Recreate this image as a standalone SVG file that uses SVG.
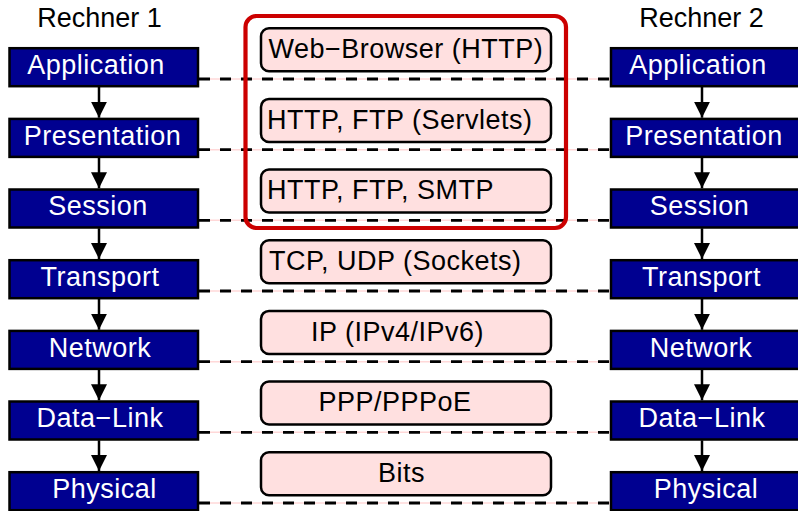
<svg xmlns="http://www.w3.org/2000/svg" width="798" height="511" viewBox="0 0 798 511">
<style>
text{font-family:"Liberation Sans",Arial,sans-serif;font-size:27px;letter-spacing:0.5px}
.layer{fill:#000090;stroke:#000;stroke-width:2.5}
.lt{fill:#fff;text-anchor:middle}
.proto{fill:#ffe0e0;stroke:#000;stroke-width:2.5}
.pt{fill:#000}
.under{stroke:#ffd8d8;stroke-width:1.5}
.dash{stroke:#000;stroke-width:2.8;stroke-dasharray:11 10}
.arr{stroke:#000;stroke-width:2.5}
.title{fill:#000;text-anchor:middle;letter-spacing:0}
</style>
<defs>
<marker id="ah" markerWidth="16" markerHeight="16" viewBox="0 0 16 16" refX="16" refY="8" orient="auto" markerUnits="userSpaceOnUse">
<path d="M0,0 L16,8 L0,16 Z" fill="#000"/>
</marker>
</defs>
<rect width="798" height="511" fill="#fff"/>
<text class="title" x="99.5" y="27">Rechner 1</text>
<text class="title" x="701.5" y="27">Rechner 2</text>
<g id="connectors">
<g id="peer-lines">
<line class="under" x1="199" y1="79" x2="610" y2="79"/>
<line class="dash" x1="199" y1="79" x2="610" y2="79"/>
<line class="under" x1="199" y1="149.7" x2="610" y2="149.7"/>
<line class="dash" x1="199" y1="149.7" x2="610" y2="149.7"/>
<line class="under" x1="199" y1="220.3" x2="610" y2="220.3"/>
<line class="dash" x1="199" y1="220.3" x2="610" y2="220.3"/>
<line class="under" x1="199" y1="291" x2="610" y2="291"/>
<line class="dash" x1="199" y1="291" x2="610" y2="291"/>
<line class="under" x1="199" y1="361.7" x2="610" y2="361.7"/>
<line class="dash" x1="199" y1="361.7" x2="610" y2="361.7"/>
<line class="under" x1="199" y1="432.3" x2="610" y2="432.3"/>
<line class="dash" x1="199" y1="432.3" x2="610" y2="432.3"/>
<line class="under" x1="199" y1="503" x2="610" y2="503"/>
<line class="dash" x1="199" y1="503" x2="610" y2="503"/>
</g>
<g id="arrows">
<line class="arr" x1="99" y1="87" x2="99" y2="117.7" marker-end="url(#ah)"/>
<line class="arr" x1="99" y1="157.7" x2="99" y2="188.3" marker-end="url(#ah)"/>
<line class="arr" x1="99" y1="228.3" x2="99" y2="259" marker-end="url(#ah)"/>
<line class="arr" x1="99" y1="299" x2="99" y2="329.7" marker-end="url(#ah)"/>
<line class="arr" x1="99" y1="369.7" x2="99" y2="400.3" marker-end="url(#ah)"/>
<line class="arr" x1="99" y1="440.3" x2="99" y2="471" marker-end="url(#ah)"/>
<line class="arr" x1="702" y1="87" x2="702" y2="117.7" marker-end="url(#ah)"/>
<line class="arr" x1="702" y1="157.7" x2="702" y2="188.3" marker-end="url(#ah)"/>
<line class="arr" x1="702" y1="228.3" x2="702" y2="259" marker-end="url(#ah)"/>
<line class="arr" x1="702" y1="299" x2="702" y2="329.7" marker-end="url(#ah)"/>
<line class="arr" x1="702" y1="369.7" x2="702" y2="400.3" marker-end="url(#ah)"/>
<line class="arr" x1="702" y1="440.3" x2="702" y2="471" marker-end="url(#ah)"/>
</g>
</g>
<g id="left-application"><rect class="layer" x="9.5" y="48.2" width="188.5" height="38"/><text class="lt" x="96" y="74">Application</text></g>
<g id="left-presentation"><rect class="layer" x="9.5" y="118.9" width="188.5" height="38"/><text class="lt" x="102.5" y="144.7">Presentation</text></g>
<g id="left-session"><rect class="layer" x="9.5" y="189.5" width="188.5" height="38"/><text class="lt" x="98" y="215.3">Session</text></g>
<g id="left-transport"><rect class="layer" x="9.5" y="260.2" width="188.5" height="38"/><text class="lt" x="100" y="286">Transport</text></g>
<g id="left-network"><rect class="layer" x="9.5" y="330.9" width="188.5" height="38"/><text class="lt" x="100" y="356.7">Network</text></g>
<g id="left-datalink"><rect class="layer" x="9.5" y="401.5" width="188.5" height="38"/><text class="lt" x="100" y="427.3">Data−Link</text></g>
<g id="left-physical"><rect class="layer" x="9.5" y="472.2" width="188.5" height="38"/><text class="lt" x="104.5" y="498">Physical</text></g>
<g id="right-application"><rect class="layer" x="611" y="48.2" width="189" height="38"/><text class="lt" x="698" y="74">Application</text></g>
<g id="right-presentation"><rect class="layer" x="611" y="118.9" width="189" height="38"/><text class="lt" x="704" y="144.7">Presentation</text></g>
<g id="right-session"><rect class="layer" x="611" y="189.5" width="189" height="38"/><text class="lt" x="699.5" y="215.3">Session</text></g>
<g id="right-transport"><rect class="layer" x="611" y="260.2" width="189" height="38"/><text class="lt" x="701.5" y="286">Transport</text></g>
<g id="right-network"><rect class="layer" x="611" y="330.9" width="189" height="38"/><text class="lt" x="701" y="356.7">Network</text></g>
<g id="right-datalink"><rect class="layer" x="611" y="401.5" width="189" height="38"/><text class="lt" x="702" y="427.3">Data−Link</text></g>
<g id="right-physical"><rect class="layer" x="611" y="472.2" width="189" height="38"/><text class="lt" x="706" y="498">Physical</text></g>
<g id="proto-app"><rect class="proto" x="261" y="28.2" width="290" height="43" rx="8"/><text class="pt" x="268.5" y="58">Web−Browser (HTTP)</text></g>
<g id="proto-pres"><rect class="proto" x="261" y="98.9" width="290" height="43" rx="8"/><text class="pt" x="267" y="128.7">HTTP, FTP (Servlets)</text></g>
<g id="proto-sess"><rect class="proto" x="261" y="169.5" width="290" height="43" rx="8"/><text class="pt" x="267" y="199.3">HTTP, FTP, SMTP</text></g>
<g id="proto-trans"><rect class="proto" x="261" y="240.2" width="290" height="43" rx="8"/><text class="pt" x="269" y="270">TCP, UDP (Sockets)</text></g>
<g id="proto-net"><rect class="proto" x="261" y="310.9" width="290" height="43" rx="8"/><text class="pt" x="311" y="340.7">IP (IPv4/IPv6)</text></g>
<g id="proto-link"><rect class="proto" x="261" y="381.5" width="290" height="43" rx="8"/><text class="pt" x="318.5" y="411.3">PPP/PPPoE</text></g>
<g id="proto-phys"><rect class="proto" x="261" y="452.2" width="290" height="43" rx="8"/><text class="pt" x="378" y="482">Bits</text></g>
<g id="app-group"><rect x="245.5" y="16" width="320.5" height="212" rx="11" fill="none" stroke="#cc0000" stroke-width="4.2"/></g>
</svg>
